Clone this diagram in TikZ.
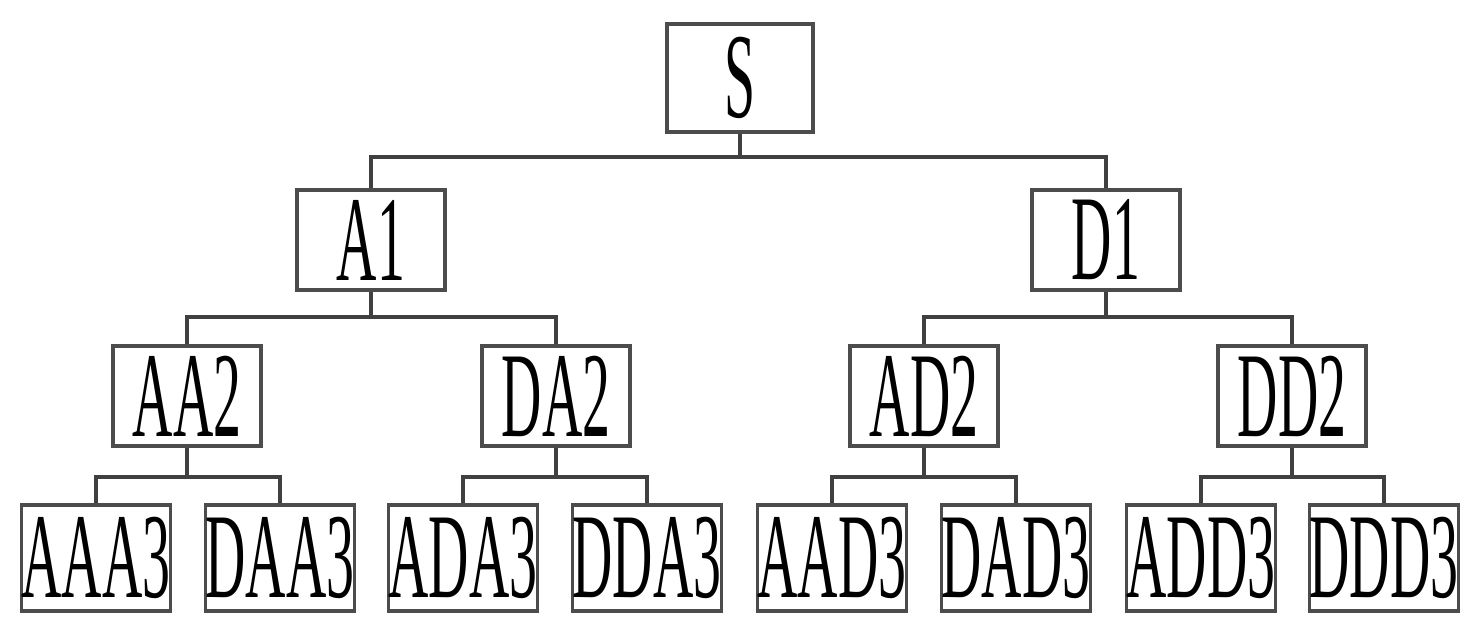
\documentclass[tikz,border=0pt]{standalone}
\usepackage{fontspec}
\newfontfamily\condfont[FakeStretch=0.46]{Liberation Serif}
\begin{document}
\begin{tikzpicture}[x=0.01cm,y=-0.01cm,
  box/.style={draw=black!70,line width=1pt,fill=white,inner sep=0pt,
    font=\condfont\fontsize{34.5}{34.5}\selectfont},
  lvA/.style={box,minimum width=1.46cm,minimum height=1.08cm},
  lvB/.style={box,minimum width=1.48cm,minimum height=1.0cm},
  lvC/.style={box,minimum width=1.48cm,minimum height=1.06cm},
  link/.style={draw=black!75,line width=1pt}]
\useasboundingbox (0,0) rectangle (1480,632);
\node[lvA] (S) at (740,78) {S};
\node[lvB] (A1) at (371,240) {A1};
\node[lvB] (D1) at (1106,240) {D1};
\node[lvB] (AA2) at (187,396) {AA2};
\node[lvB] (DA2) at (556,396) {DA2};
\node[lvB] (AD2) at (924,396) {AD2};
\node[lvB] (DD2) at (1292,396) {DD2};
\node[lvC] (AAA3) at (96,558) {AAA3};
\node[lvC] (DAA3) at (280,558) {DAA3};
\node[lvC] (ADA3) at (463,558) {ADA3};
\node[lvC] (DDA3) at (647,558) {DDA3};
\node[lvC] (AAD3) at (832,558) {AAD3};
\node[lvC] (DAD3) at (1016,558) {DAD3};
\node[lvC] (ADD3) at (1201,558) {ADD3};
\node[lvC] (DDD3) at (1384,558) {DDD3};
\coordinate (b0) at (0,157);
\coordinate (b1) at (0,317);
\coordinate (b2) at (0,477);
\newcommand\fork[4]{%
  \draw[link] (#1.south) -- (#1.south |- #4);
  \draw[link] (#2.north) -- (#2.north |- #4) -- (#3.north |- #4) -- (#3.north);}
\fork{S}{A1}{D1}{b0}
\fork{A1}{AA2}{DA2}{b1}
\fork{D1}{AD2}{DD2}{b1}
\fork{AA2}{AAA3}{DAA3}{b2}
\fork{DA2}{ADA3}{DDA3}{b2}
\fork{AD2}{AAD3}{DAD3}{b2}
\fork{DD2}{ADD3}{DDD3}{b2}
\end{tikzpicture}
\end{document}
